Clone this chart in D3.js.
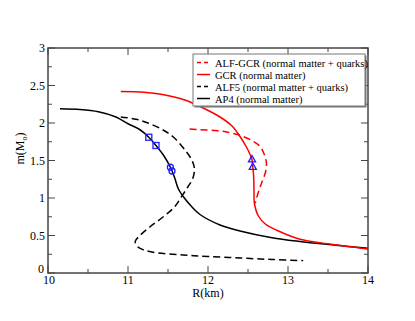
<!DOCTYPE html>
<html>
<head>
<meta charset="utf-8">
<script src="https://cdn.jsdelivr.net/npm/d3@7"></script>
<style>
  body { margin: 0; background: #fff; }
</style>
</head>
<body>
<svg id="chart" font-family="'Liberation Serif', 'Times New Roman', serif"></svg>
<script>
// values
const ap4R = [10.15, 10.4, 10.63, 10.85, 11.0, 11.15, 11.26, 11.35, 11.45, 11.53, 11.58, 11.63, 11.69, 11.8, 11.9, 12.15, 12.4, 12.8, 13.15, 13.6, 14.0];
const ap4M = [2.19, 2.18, 2.15, 2.08, 1.99, 1.91, 1.81, 1.70, 1.56, 1.41, 1.28, 1.12, 1.02, 0.88, 0.78, 0.64, 0.56, 0.47, 0.42, 0.37, 0.33];

const alf5R = [10.91, 11.1, 11.25, 11.45, 11.58, 11.72, 11.8, 11.83, 11.81, 11.75, 11.67, 11.58, 11.43, 11.28, 11.15, 11.09, 11.12, 11.19, 11.35, 11.69, 12.0, 12.4, 12.8, 13.19];
const alf5M = [2.08, 2.05, 2.0, 1.9, 1.8, 1.63, 1.5, 1.39, 1.26, 1.15, 1.02, 0.88, 0.74, 0.62, 0.5, 0.42, 0.35, 0.31, 0.27, 0.24, 0.22, 0.2, 0.18, 0.165];

const gcrR = [10.91, 11.2, 11.43, 11.7, 11.9, 12.15, 12.3, 12.4, 12.48, 12.53, 12.55, 12.56, 12.57, 12.575, 12.58, 12.63, 12.72, 12.86, 13.15, 13.5, 14.0];
const gcrM = [2.42, 2.41, 2.38, 2.31, 2.22, 2.08, 1.96, 1.82, 1.68, 1.57, 1.51, 1.41, 1.3, 1.1, 0.93, 0.76, 0.65, 0.57, 0.45, 0.39, 0.32];

const alfgcrR = [11.77, 11.9, 12.1, 12.23, 12.35, 12.44, 12.56, 12.65, 12.7, 12.73, 12.72, 12.67, 12.63, 12.6, 12.59];
const alfgcrM = [1.92, 1.91, 1.9, 1.88, 1.85, 1.82, 1.76, 1.69, 1.59, 1.47, 1.35, 1.2, 1.08, 0.97, 0.93];

const squareR = [11.26, 11.35], squareM = [1.81, 1.70];
const circleR = [11.53, 11.55], circleM = [1.41, 1.36];
const triR = [12.55, 12.56], triM = [1.51, 1.41];

const xTicks = [10, 11, 12, 13, 14];
const yTicks = [0, 0.5, 1, 1.5, 2, 2.5, 3];

const legendLabels = ["ALF-GCR (normal matter + quarks)", "GCR (normal matter)", "ALF5 (normal matter + quarks)", "AP4 (normal matter)"];

const width = 415, height = 321;
const margin = { top: 48, right: 47, bottom: 48, left: 48 };

const svg = d3.select("#chart").attr("width", width).attr("height", height);

const x = d3.scaleLinear().domain([10, 14]).range([margin.left, width - margin.right]);
const y = d3.scaleLinear().domain([0, 3]).range([height - margin.bottom, margin.top]);

const zip = (rs, ms) => rs.map((r, i) => [r, ms[i]]);
const line = d3.line().x(d => x(d[0])).y(d => y(d[1])).curve(d3.curveCatmullRom.alpha(0.5));

const series = [
  { pts: zip(ap4R, ap4M), color: "#000", dash: null },
  { pts: zip(alf5R, alf5M), color: "#000", dash: "7,4" },
  { pts: zip(gcrR, gcrM), color: "#f00", dash: null },
  { pts: zip(alfgcrR, alfgcrM), color: "#f00", dash: "7,4" }
];

const plot = svg.append("g");
plot.selectAll("path.curve")
  .data(series)
  .enter()
    .append("path")
    .attr("class", "curve")
    .attr("d", d => line(d.pts))
    .attr("fill", "none")
    .attr("stroke", d => d.color)
    .attr("stroke-width", 1.5)
    .attr("stroke-dasharray", d => d.dash);

// markers
const blue = "#1f1fff";
plot.selectAll("rect.sq")
  .data(zip(squareR, squareM))
  .enter()
    .append("rect")
    .attr("x", d => x(d[0]) - 3)
    .attr("y", d => y(d[1]) - 3)
    .attr("width", 6).attr("height", 6)
    .attr("fill", "none").attr("stroke", blue).attr("stroke-width", 1.3);

plot.selectAll("circle.c")
  .data(zip(circleR, circleM))
  .enter()
    .append("circle")
    .attr("cx", d => x(d[0]))
    .attr("cy", d => y(d[1]))
    .attr("r", 3)
    .attr("fill", "none").attr("stroke", blue).attr("stroke-width", 1.3);

const tri = d3.symbol().type(d3.symbolTriangle).size(22);
plot.selectAll("path.tri")
  .data(zip(triR, triM))
  .enter()
    .append("path")
    .attr("d", tri)
    .attr("transform", d => `translate(${x(d[0])},${y(d[1])})`)
    .attr("fill", "none").attr("stroke", blue).attr("stroke-width", 1.3);

// frame and ticks
const axisColor = "#444";
const frame = svg.append("g");
const x0 = x.range()[0], x1 = x.range()[1], y0 = y.range()[0], y1 = y.range()[1];

const xMinor = d3.range(10.5, 14, 1);
const yMinor = d3.range(0.25, 3, 0.5);

const ticks = [];
xTicks.forEach(v => { ticks.push([x(v), y0, x(v), y0 - 7]); ticks.push([x(v), y1, x(v), y1 + 7]); });
xMinor.forEach(v => { ticks.push([x(v), y0, x(v), y0 - 4]); ticks.push([x(v), y1, x(v), y1 + 4]); });
yTicks.forEach(v => { ticks.push([x0, y(v), x0 + 7, y(v)]); ticks.push([x1, y(v), x1 - 7, y(v)]); });
yMinor.forEach(v => { ticks.push([x0, y(v), x0 + 4, y(v)]); ticks.push([x1, y(v), x1 - 4, y(v)]); });

frame.selectAll("line")
  .data(ticks)
  .enter()
    .append("line")
    .attr("x1", d => d[0]).attr("y1", d => d[1])
    .attr("x2", d => d[2]).attr("y2", d => d[3])
    .attr("stroke", axisColor).attr("stroke-width", 1);

frame.append("rect")
  .attr("x", x0).attr("y", y1)
  .attr("width", x1 - x0).attr("height", y0 - y1)
  .attr("fill", "none").attr("stroke", axisColor).attr("stroke-width", 1.5);

// tick labels
frame.selectAll("text.xl")
  .data(xTicks)
  .enter()
    .append("text")
    .attr("x", d => x(d) + (d === 10 ? 1 : 0))
    .attr("y", y0 + 11)
    .attr("text-anchor", "middle")
    .attr("font-size", 12)
    .text(d => d);

frame.selectAll("text.yl")
  .data(yTicks)
  .enter()
    .append("text")
    .attr("x", d => x0 - 3 - (d === 0 ? 1 : 0))
    .attr("y", d => y(d) + 4 - (d === 0 ? 4 : 0))
    .attr("text-anchor", "end")
    .attr("font-size", 12)
    .text(d => d);

frame.append("text")
  .attr("x", (x0 + x1) / 2)
  .attr("y", y0 + 24)
  .attr("text-anchor", "middle")
  .attr("font-size", 12)
  .text("R(km)");

const ylab = frame.append("text")
  .attr("transform", `translate(24,${(y0 + y1) / 2 - 12}) rotate(-90)`)
  .attr("text-anchor", "middle")
  .attr("font-size", 12);
ylab.append("tspan").text("m(M");
ylab.append("tspan").attr("font-size", 8).attr("dy", 3).text("o");
ylab.append("tspan").attr("dy", -3).text(")");

// legend
const legend = svg.append("g").attr("transform", "translate(193,54)");
legend.append("rect").attr("x", 1.5).attr("y", 1.5).attr("width", 172).attr("height", 52).attr("fill", "#777");
legend.append("rect").attr("width", 172).attr("height", 52).attr("fill", "#fff").attr("stroke", "#777").attr("stroke-width", 1);

const legendItems = [series[3], series[2], series[1], series[0]];
const rows = legend.selectAll("g.row")
  .data(legendItems)
  .enter()
    .append("g")
    .attr("transform", (d, i) => `translate(0,${8.5 + i * 12})`);

rows.append("line")
  .attr("x1", 4).attr("x2", 17).attr("y1", 0).attr("y2", 0)
  .attr("stroke", d => d.color)
  .attr("stroke-width", 1.5)
  .attr("stroke-dasharray", d => d.dash ? "4,3" : null);

rows.append("text")
  .attr("x", 22)
  .attr("y", 4)
  .attr("font-size", 10.5)
  .text((d, i) => legendLabels[i]);
</script>
</body>
</html>
